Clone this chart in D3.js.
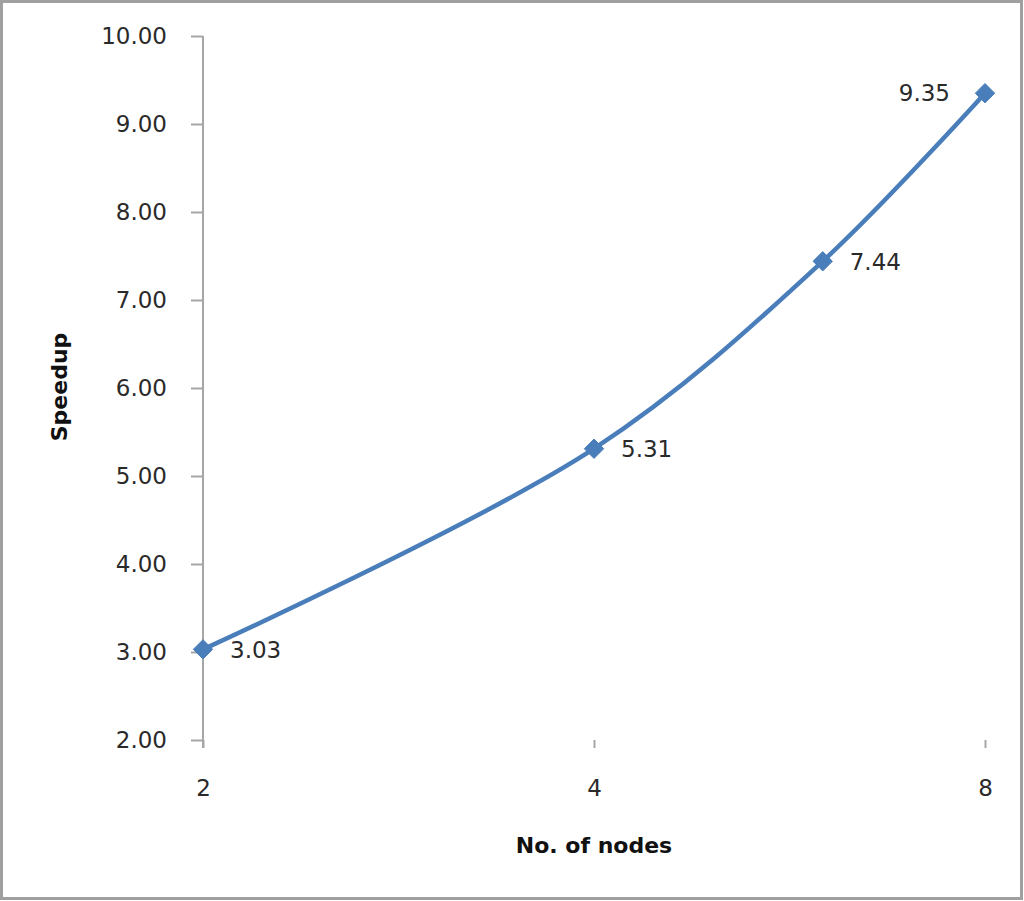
<!DOCTYPE html>
<html>
<head>
<meta charset="utf-8">
<script src="https://cdn.jsdelivr.net/npm/d3@7"></script>
<style>
  html, body { margin: 0; padding: 0; background: #fff; }
  svg { display: block; }
</style>
</head>
<body>
<div id="chart"></div>
<script>
// data
const nodes = [2, 4, 6, 8];
const speedup = [3.03, 5.31, 7.44, 9.35];
const xTicks = [2, 4, 8];
const yTicks = [2, 3, 4, 5, 6, 7, 8, 9, 10];

const W = 1024, H = 901;
const margin = { top: 36, right: 39, bottom: 161, left: 203 };
const width = W - margin.left - margin.right;
const height = H - margin.top - margin.bottom;
const blue = "#4a7ebb";
const axisGrey = "#a6a6a6";
const font = "'DejaVu Sans', sans-serif";

const svg = d3.select("#chart").append("svg")
    .attr("width", W)
    .attr("height", H);

// outer frame
svg.append("rect")
    .attr("x", 1.5).attr("y", 1.5)
    .attr("width", W - 4).attr("height", H - 4)
    .attr("fill", "none")
    .attr("stroke", "#a0a0a0")
    .attr("stroke-width", 3);

const g = svg.append("g")
    .attr("transform", `translate(${margin.left},${margin.top})`);

const x = d3.scaleLog().base(2)
    .domain([2, 8])
    .range([0, width]);

const y = d3.scaleLinear()
    .domain([2, 10])
    .range([height, 0]);

// y axis
const yAxis = g.append("g")
    .call(d3.axisLeft(y).tickValues(yTicks).tickFormat(d3.format(".2f"))
        .tickSize(12).tickSizeOuter(0).tickPadding(24));
yAxis.select(".domain").remove();
yAxis.selectAll(".tick line").attr("stroke", axisGrey).attr("stroke-width", 2);
yAxis.selectAll("text")
    .attr("font-family", font)
    .attr("font-size", 23)
    .attr("fill", "#2a2a2a");
g.append("line")
    .attr("x1", 0).attr("x2", 0)
    .attr("y1", 0).attr("y2", height + 8)
    .attr("stroke", axisGrey)
    .attr("stroke-width", 2);

// x axis (ticks only, no baseline)
const xAxis = g.append("g")
    .attr("transform", `translate(0,${height})`)
    .call(d3.axisBottom(x).tickValues(xTicks).tickFormat(d => d)
        .tickSize(8).tickSizeOuter(0).tickPadding(32));
xAxis.select(".domain").remove();
xAxis.selectAll(".tick line").attr("stroke", axisGrey).attr("stroke-width", 2);
xAxis.selectAll("text")
    .attr("font-family", font)
    .attr("font-size", 23)
    .attr("fill", "#2a2a2a");

const points = nodes.map((n, i) => ({ n: n, v: speedup[i] }));

// smoothed line
const line = d3.line()
    .x(d => x(d.n))
    .y(d => y(d.v))
    .curve(d3.curveCatmullRom.alpha(0.5));

g.append("path")
    .datum(points)
    .attr("d", line)
    .attr("fill", "none")
    .attr("stroke", blue)
    .attr("stroke-width", 4.5);

// diamond markers
g.selectAll(".marker")
    .data(points)
    .enter().append("path")
    .attr("class", "marker")
    .attr("d", d3.symbol().type(d3.symbolDiamond2).size(240))
    .attr("transform", d => `translate(${x(d.n)},${y(d.v)})`)
    .attr("fill", blue)
    .attr("stroke", blue)
    .attr("stroke-width", 1);

// data labels
g.selectAll(".label")
    .data(points)
    .enter().append("text")
    .attr("class", "label")
    .attr("x", (d, i) => i === points.length - 1 ? x(d.n) - 35 : x(d.n) + 27)
    .attr("y", d => y(d.v))
    .attr("dy", "0.36em")
    .attr("text-anchor", (d, i) => i === points.length - 1 ? "end" : "start")
    .attr("font-family", font)
    .attr("font-size", 23)
    .attr("fill", "#2a2a2a")
    .text(d => d.v.toFixed(2));

// axis titles
svg.append("text")
    .attr("x", margin.left + x(4))
    .attr("y", 853)
    .attr("text-anchor", "middle")
    .attr("font-family", font)
    .attr("font-weight", "bold")
    .attr("font-size", 22)
    .attr("fill", "#111")
    .text("No. of nodes");

svg.append("text")
    .attr("transform", `translate(67,387) rotate(-90)`)
    .attr("text-anchor", "middle")
    .attr("font-family", font)
    .attr("font-weight", "bold")
    .attr("font-size", 22)
    .attr("fill", "#111")
    .text("Speedup");
</script>
</body>
</html>
